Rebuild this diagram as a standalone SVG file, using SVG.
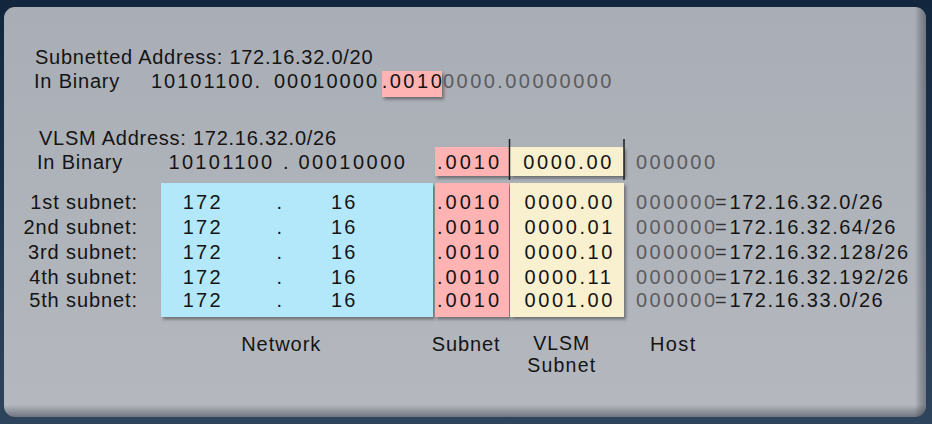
<svg xmlns="http://www.w3.org/2000/svg" width="932" height="424" viewBox="0 0 932 424">
  <defs>
    <linearGradient id="bg" x1="0" y1="0" x2="0" y2="1">
      <stop offset="0" stop-color="#12263e"/>
      <stop offset="1" stop-color="#2d445c"/>
    </linearGradient>
    <linearGradient id="panelV" x1="0" y1="0" x2="0" y2="1">
      <stop offset="0" stop-color="#a9adb5"/>
      <stop offset="0.97" stop-color="#b4b8be"/>
      <stop offset="1" stop-color="#6f7580"/>
    </linearGradient>
    <linearGradient id="panelH" x1="0" y1="0" x2="1" y2="0">
      <stop offset="0" stop-color="#000" stop-opacity="0"/>
      <stop offset="0.988" stop-color="#000" stop-opacity="0"/>
      <stop offset="1" stop-color="#283040" stop-opacity="0.45"/>
    </linearGradient>
    <filter id="sh" x="-10%" y="-10%" width="130%" height="130%">
      <feDropShadow dx="2" dy="2.5" stdDeviation="1.5" flood-color="#3a3a3a" flood-opacity="0.55"/>
    </filter>
  </defs>
  <style>
    text { font-family: "Liberation Sans", Arial, sans-serif; font-size: 20px; fill: #141414; }
    .g { fill: #5a5c60; }
    .lbl { letter-spacing: 0.8px; }
    .blue { fill: #b3e8fa; }
    .pink { fill: #ffb3b3; }
    .yel { fill: #f8f0cf; }
    .h5 { letter-spacing: 2.46px; fill: #5a5c60; }
    .h1 { letter-spacing: 0px; fill: #5a5c60; }
    .eq { letter-spacing: 0px; fill: #333333; }
  </style>

  <rect x="0" y="0" width="932" height="424" fill="url(#bg)"/>
  <g id="panel">
    <rect x="4" y="7" width="922" height="410" rx="11" fill="url(#panelV)"/>
    <rect x="4" y="7" width="922" height="410" rx="11" fill="url(#panelH)"/>
  </g>

  <g id="subnetted">
    <text x="35" y="64" style="letter-spacing:0.75px">Subnetted Address: 172.16.32.0/20</text>
    <text x="34" y="88" class="lbl">In Binary</text>
    <text x="151" y="88" style="letter-spacing:2px">10101100.</text>
    <text x="274" y="88" style="letter-spacing:2px">0001000<tspan style="letter-spacing:0px">0</tspan></text>
    <rect x="382" y="71" width="60" height="26" class="pink" filter="url(#sh)"/>
    <text x="381.7" y="88" style="letter-spacing:2.5px">.001<tspan style="letter-spacing:0px">0</tspan></text>
    <text x="443" y="88" class="g" style="letter-spacing:2.45px">0000.00000000</text>
  </g>

  <g id="vlsm">
    <text x="39" y="145" style="letter-spacing:0.75px">VLSM Address: 172.16.32.0/26</text>
    <text x="37" y="169.3" class="lbl">In Binary</text>
    <text x="168.5" y="169.3" style="letter-spacing:2.3px">10101100</text>
    <text x="283" y="169.3">.</text>
    <text x="298.5" y="169.3" style="letter-spacing:2.5px">00010000</text>
    <rect x="435" y="147" width="74" height="29" class="pink" filter="url(#sh)"/>
    <rect x="510" y="147" width="114" height="29" class="yel" filter="url(#sh)"/>
    <text x="437" y="169.3" style="letter-spacing:3px">.0010</text>
    <text x="523.2" y="169.3" style="letter-spacing:2.65px">0000.00</text>
    <text x="636" y="169.3" class="g" style="letter-spacing:2.46px">000000</text>
  </g>

  <g id="dividers" stroke="#1e1e1e" stroke-width="1.5">
    <line x1="509.5" y1="139" x2="509.5" y2="180"/>
    <line x1="624" y1="139" x2="624" y2="180"/>
  </g>

  <g id="row-labels" text-anchor="end" style="letter-spacing:0.9px">
    <text x="138" y="208.5">1st subnet:</text>
    <text x="138" y="233.5">2nd subnet:</text>
    <text x="138" y="259">3rd subnet:</text>
    <text x="138" y="283.5">4th subnet:</text>
    <text x="138" y="307">5th subnet:</text>
  </g>

  <g id="network">
    <rect x="161" y="183" width="272" height="134" class="blue" filter="url(#sh)"/>
    <g style="letter-spacing:2.2px">
      <text x="182.8" y="208.5">172</text><text x="276.5" y="208.5">.</text><text x="331" y="208.5">16</text>
      <text x="182.8" y="233.5">172</text><text x="276.5" y="233.5">.</text><text x="331" y="233.5">16</text>
      <text x="182.8" y="259">172</text><text x="276.5" y="259">.</text><text x="331" y="259">16</text>
      <text x="182.8" y="283.5">172</text><text x="276.5" y="283.5">.</text><text x="331" y="283.5">16</text>
      <text x="182.8" y="307">172</text><text x="276.5" y="307">.</text><text x="331" y="307">16</text>
    </g>
  </g>

  <g id="subnet">
    <rect x="435" y="183" width="74" height="134" class="pink" filter="url(#sh)"/>
    <g style="letter-spacing:3px">
      <text x="437" y="208.5">.0010</text>
      <text x="437" y="233.5">.0010</text>
      <text x="437" y="259">.0010</text>
      <text x="437" y="283.5">.0010</text>
      <text x="437" y="307">.0010</text>
    </g>
  </g>

  <g id="vlsm-subnet">
    <rect x="510" y="183" width="114" height="134" class="yel" filter="url(#sh)"/>
    <g style="letter-spacing:2.6px">
      <text x="524.5" y="208.5">0000.00</text>
      <text x="524.5" y="233.5">0000.01</text>
      <text x="524.5" y="259">0000.10</text>
      <text x="524.5" y="283.5">0000.11</text>
      <text x="524.5" y="307">0001.00</text>
    </g>
  </g>

  <g id="host">
    <text x="636" y="208.5"><tspan class="h5">00000</tspan><tspan class="h1">0</tspan><tspan class="eq">=</tspan></text>
    <text x="636" y="233.5"><tspan class="h5">00000</tspan><tspan class="h1">0</tspan><tspan class="eq">=</tspan></text>
    <text x="636" y="259"><tspan class="h5">00000</tspan><tspan class="h1">0</tspan><tspan class="eq">=</tspan></text>
    <text x="636" y="283.5"><tspan class="h5">00000</tspan><tspan class="h1">0</tspan><tspan class="eq">=</tspan></text>
    <text x="636" y="307"><tspan class="h5">00000</tspan><tspan class="h1">0</tspan><tspan class="eq">=</tspan></text>
    <g style="letter-spacing:1.52px">
      <text x="729.5" y="208.5">172.16.32.0/26</text>
      <text x="729.5" y="233.5">172.16.32.64/26</text>
      <text x="729.5" y="259">172.16.32.128/26</text>
      <text x="729.5" y="283.5">172.16.32.192/26</text>
      <text x="729.5" y="307">172.16.33.0/26</text>
    </g>
  </g>

  <g id="legend">
    <text x="241.2" y="350.7" style="letter-spacing:0.95px">Network</text>
    <text x="431.7" y="350.7" style="letter-spacing:0.9px">Subnet</text>
    <text x="533.3" y="349.6" style="font-size:19.5px;letter-spacing:0.95px">VLSM</text>
    <text x="527.3" y="371.6" style="font-size:19.5px;letter-spacing:1.2px">Subnet</text>
    <text x="650" y="350.7" style="letter-spacing:1.4px">Host</text>
  </g>
</svg>
